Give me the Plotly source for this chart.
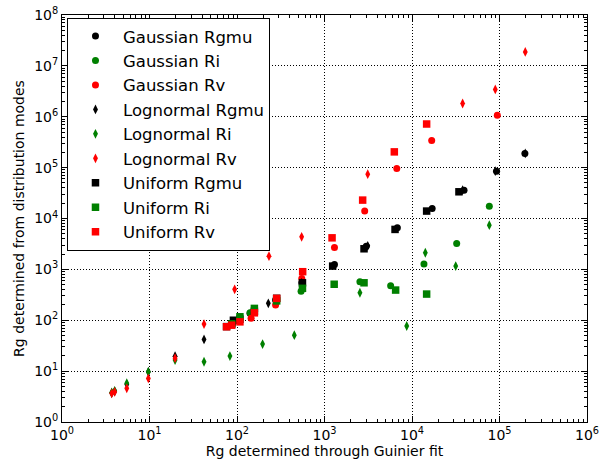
import plotly.graph_objects as go

# ---- data ----
gauss_rgmu_x = [141, 276, 550, 1300, 3000, 6800, 17000, 39300, 92700, 195000]
gauss_rgmu_y = [138, 250, 545, 1250, 2850, 6600, 15800, 36100, 85300, 190000]
gauss_ri_x = [141, 540, 2540, 5700, 13700, 32400, 76500]
gauss_ri_y = [140, 370, 570, 476, 1270, 3240, 17500]
gauss_rv_x = [145, 276, 550, 1300, 2880, 6700, 16800, 94400]
gauss_rv_y = [109, 200, 665, 2700, 14000, 96400, 342000, 1070000]

logn_rgmu_x = [3.7, 4.0, 5.5, 9.7, 19.6, 42, 94, 228, 548, 3120, 37900, 89500, 197000]
logn_rgmu_y = [3.7, 4.0, 5.5, 9.7, 19.6, 42, 92, 215, 540, 2900, 36100, 85300, 190000]
logn_ri_x = [3.7, 4.0, 5.5, 9.7, 19.6, 42, 83, 196, 452, 2540, 8700, 14200, 31600, 76500]
logn_ri_y = [3.8, 4.1, 5.8, 9.7, 16.5, 15.3, 19.8, 34, 51, 347, 77, 2120, 1160, 7400]
logn_rv_x = [3.7, 4.0, 5.5, 9.7, 19.6, 42, 94, 232, 548, 3120, 37900, 89500, 197000]
logn_rv_y = [3.66, 3.9, 4.6, 7.2, 18, 84, 405, 1820, 4370, 74500, 1820000, 3440000, 18800000]

unif_rgmu_x = [76, 87, 91, 108, 158, 284, 560, 1240, 2830, 6400, 14700, 34400]
unif_rgmu_y = [75, 85, 100, 105, 150, 270, 545, 1160, 2540, 6100, 14000, 33500]
unif_ri_x = [87, 108, 158, 284, 560, 1290, 2830, 6500, 14700]
unif_ri_y = [85, 117, 171, 240, 424, 510, 545, 392, 327]
unif_rv_x = [76, 87, 108, 158, 284, 563, 1220, 2730, 6280, 14700]
unif_rv_y = [74.5, 80, 93, 140, 269, 900, 4170, 23000, 204000, 720000]

x_tick_vals = [1, 10, 100, 1000, 10000, 100000, 1000000]
x_tick_text = ["10<sup>0</sup>", "10<sup>1</sup>", "10<sup>2</sup>", "10<sup>3</sup>",
               "10<sup>4</sup>", "10<sup>5</sup>", "10<sup>6</sup>"]
y_tick_vals = [1, 10, 100, 1000, 10000, 100000, 1000000, 10000000, 100000000]
y_tick_text = ["10<sup>0</sup>", "10<sup>1</sup>", "10<sup>2</sup>", "10<sup>3</sup>",
               "10<sup>4</sup>", "10<sup>5</sup>", "10<sup>6</sup>", "10<sup>7</sup>",
               "10<sup>8</sup>"]

BLACK, GREEN, RED = "#000000", "#008000", "#ff0000"

series = [
    ("Gaussian Rgmu", gauss_rgmu_x, gauss_rgmu_y, "circle", BLACK, 7),
    ("Gaussian Ri", gauss_ri_x, gauss_ri_y, "circle", GREEN, 7),
    ("Gaussian Rv", gauss_rv_x, gauss_rv_y, "circle", RED, 7),
    ("Lognormal Rgmu", logn_rgmu_x, logn_rgmu_y, "diamond-tall", BLACK, 7),
    ("Lognormal Ri", logn_ri_x, logn_ri_y, "diamond-tall", GREEN, 7),
    ("Lognormal Rv", logn_rv_x, logn_rv_y, "diamond-tall", RED, 7),
    ("Uniform Rgmu", unif_rgmu_x, unif_rgmu_y, "square", BLACK, 7.5),
    ("Uniform Ri", unif_ri_x, unif_ri_y, "square", GREEN, 7.5),
    ("Uniform Rv", unif_rv_x, unif_rv_y, "square", RED, 7.5),
]

fig = go.Figure()
for name, xs, ys, sym, col, sz in series:
    fig.add_trace(go.Scatter(
        x=xs, y=ys, mode="markers", name=name,
        marker=dict(symbol=sym, color=col, size=sz, line=dict(width=0)),
    ))

minor_x = [k * 10 ** n for n in range(0, 6) for k in range(2, 10)]
minor_y = [k * 10 ** n for n in range(0, 8) for k in range(2, 10)]

axis_common = dict(
    type="log", showline=True, linecolor="black", linewidth=1, mirror="ticks",
    ticks="inside", ticklen=6, tickwidth=1, tickcolor="black",
    showgrid=True, gridcolor="black", gridwidth=1, griddash="1px,2px",
    zeroline=False, tickfont=dict(size=14, color="black"), automargin=False,
)

fig.update_xaxes(
    range=[0, 6], tickvals=x_tick_vals, ticktext=x_tick_text,
    minor=dict(tickvals=minor_x, ticks="inside", ticklen=3, tickcolor="black", showgrid=False),
    title=dict(text="Rg determined through Guinier fit", font=dict(size=14, color="black"), standoff=4),
    **axis_common,
)
fig.update_yaxes(
    range=[0, 8], tickvals=y_tick_vals, ticktext=y_tick_text,
    minor=dict(tickvals=minor_y, ticks="inside", ticklen=3, tickcolor="black", showgrid=False),
    title=dict(text="Rg determined from distribution modes", font=dict(size=14, color="black"), standoff=6),
    **axis_common,
)

fig.update_layout(
    width=606, height=463,
    margin=dict(l=62, r=19, t=15, b=41),
    paper_bgcolor="white", plot_bgcolor="white",
    font=dict(family="DejaVu Sans", color="black"),
    showlegend=True,
    legend=dict(
        x=0.0095, y=0.993, xanchor="left", yanchor="top",
        bgcolor="white", bordercolor="black", borderwidth=1,
        font=dict(size=16.5, color="black"), itemwidth=45,
        tracegroupgap=0,
    ),
)

fig.write_html("out.html", config={"displayModeBar": False},
               post_script="document.body.style.margin='0px';")
